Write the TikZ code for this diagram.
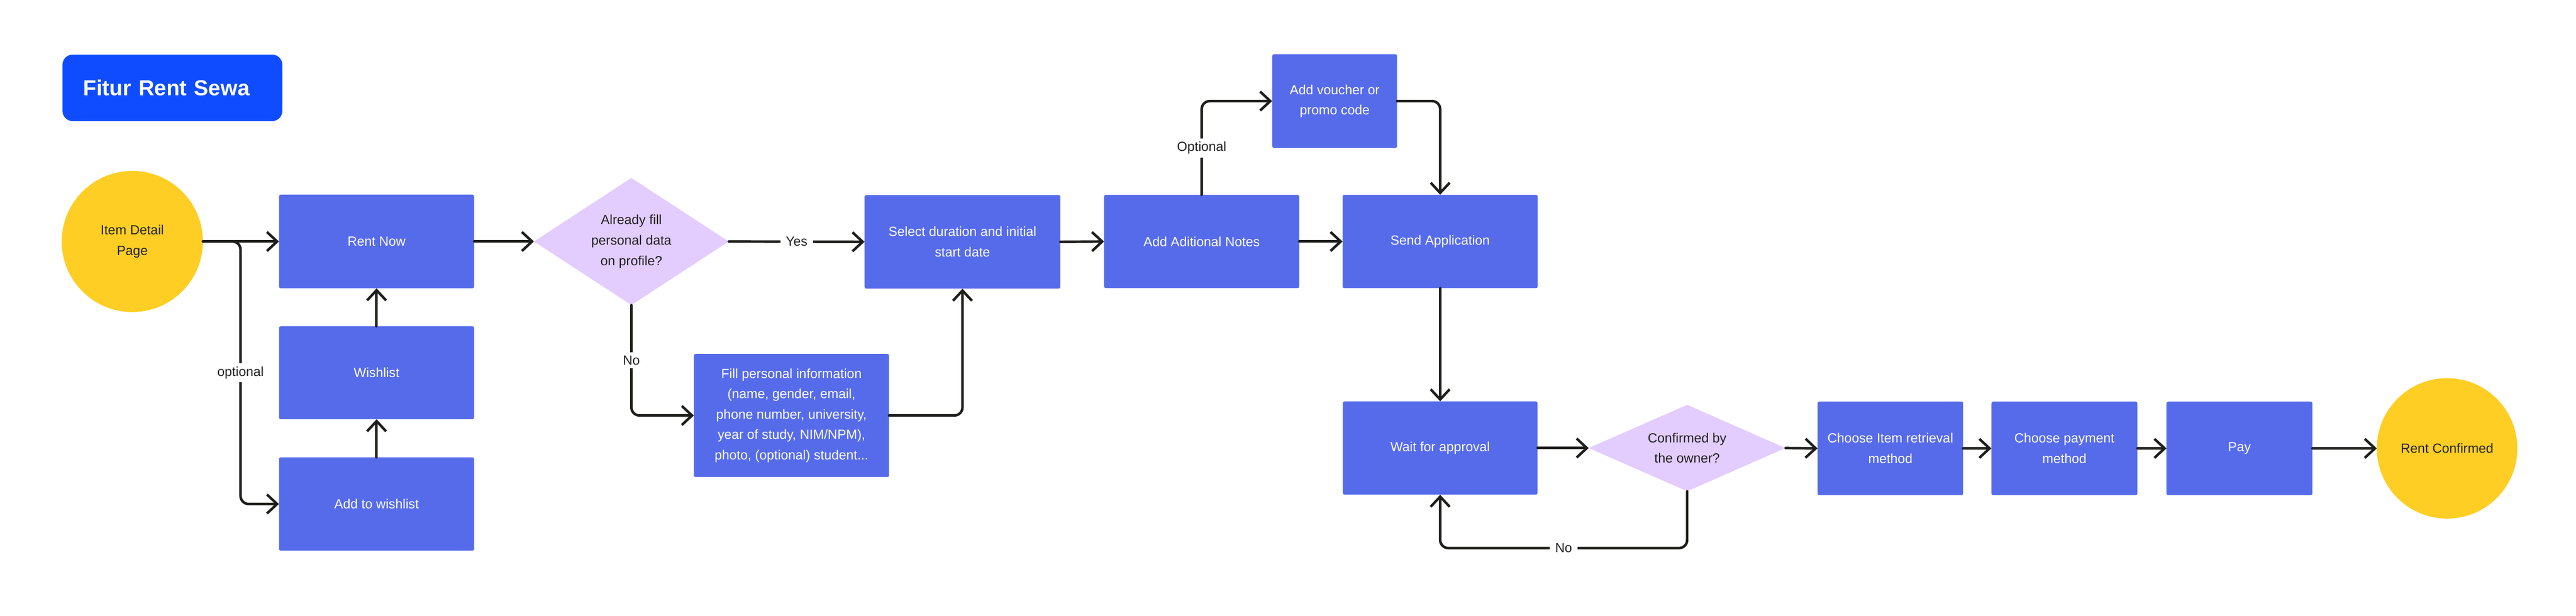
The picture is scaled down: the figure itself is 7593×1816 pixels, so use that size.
\documentclass[tikz,border=0pt]{standalone}
\usepackage{fontspec}
\setmainfont{Liberation Sans}
\usetikzlibrary{arrows.meta,shapes.geometric,calc}
\definecolor{boxblue}{HTML}{566BEA}
\definecolor{titleblue}{HTML}{0F4CFF}
\definecolor{lav}{HTML}{E3CDFF}
\definecolor{yel}{HTML}{FECE24}
\definecolor{linec}{HTML}{1E1E1B}
\definecolor{txtdark}{HTML}{222222}
\tikzset{
  bodyfont/.style={font=\fontsize{39}{60}\selectfont},
  procbox/.style={rectangle, fill=boxblue, text=white, rounded corners=5pt, inner sep=0pt, align=center, bodyfont},
  decision/.style={diamond, fill=lav, text=txtdark, inner sep=0pt, align=center, bodyfont},
  terminal/.style={circle, fill=yel, text=txtdark, inner sep=0pt, align=center, bodyfont},
  lbl/.style={fill=white, text=txtdark, inner xsep=16pt, inner ysep=10pt, bodyfont},
  arr/.style={draw=linec, line width=7.5pt, line cap=round, line join=round, -{Straight Barb[length=30pt,width=56pt]}},
  elbow/.style={rounded corners=24pt}
}
\begin{document}
\begin{tikzpicture}[x=1pt,y=-1pt]
\useasboundingbox (0,0) rectangle (7593,1816);
\fill[white] (0,0) rectangle (7593,1816);
% title
\node[rectangle, fill=titleblue, rounded corners=30pt, text=white, anchor=west, inner xsep=61pt, inner ysep=0pt, minimum height=196pt, text width=526pt, align=left, font=\fontsize{64}{76}\selectfont\bfseries] (title) at (184,259) {Fitur Rent Sewa};
% nodes
\node[terminal, minimum size=416pt] (item) at (390,712) {Item Detail\\Page};
\node[procbox, minimum width=575pt, minimum height=276pt] (rent) at (1110,712) {Rent Now};
\node[procbox, minimum width=575pt, minimum height=274pt] (wish) at (1110,1099) {Wishlist};
\node[procbox, minimum width=575pt, minimum height=275pt] (addw) at (1110,1486) {Add to wishlist};
\node[decision, minimum width=574pt, minimum height=375pt, shape aspect=1.53] (d1) at (1861,712) {Already fill\\personal data\\on profile?};
\node[procbox, minimum width=577pt, minimum height=276pt] (sel) at (2837,713) {Select duration and initial\\start date};
\node[procbox, minimum width=575pt, minimum height=363pt] (fill) at (2333,1225) {Fill personal information\\(name, gender, email,\\phone number, university,\\year of study, NIM/NPM),\\photo, (optional) student...};
\node[procbox, minimum width=575pt, minimum height=275pt] (notes) at (3542,712) {Add Aditional Notes};
\node[procbox, minimum width=368pt, minimum height=276pt] (vouch) at (3934,298) {Add voucher or\\promo code};
\node[procbox, minimum width=575pt, minimum height=275pt] (send) at (4245,712) {Send Application};
\node[procbox, minimum width=574pt, minimum height=275pt] (wait) at (4245,1321) {Wait for approval};
\node[decision, minimum width=580pt, minimum height=255pt, shape aspect=2.27] (d2) at (4973,1321) {Confirmed by\\the owner?};
\node[procbox, minimum width=429pt, minimum height=276pt] (choose) at (5572,1322) {Choose Item retrieval\\method};
\node[procbox, minimum width=430pt, minimum height=276pt] (paym) at (6085,1322) {Choose payment\\method};
\node[procbox, minimum width=430pt, minimum height=276pt] (pay) at (6601,1322) {Pay};
\node[terminal, minimum size=414pt] (rc) at (7213,1322) {Rent Confirmed};
\coordinate (br) at (709,712);
\coordinate (lp) at (4609,1616);
% connectors
\draw[arr] (item.east) -- (rent.west);
\draw[arr, elbow] (item.east) -- (br) |- (addw.west);
\draw[arr] (wish.north) -- (rent.south);
\draw[arr] (addw.north) -- (wish.south);
\draw[arr] (rent.east) -- (d1.west);
\draw[arr] (d1.east) -- (sel.west);
\draw[arr, elbow] (d1.south) |- (fill.west);
\draw[arr, elbow] (fill.east) -| (sel.south);
\draw[arr] (sel.east) -- (notes.west);
\draw[arr] (notes.east) -- (send.west);
\draw[arr, elbow] (notes.north) |- (vouch.west);
\draw[arr, elbow] (vouch.east) -| (send.north);
\draw[arr] (send.south) -- (wait.north);
\draw[arr] (wait.east) -- (d2.west);
\draw[arr] (d2.east) -- (choose.west);
\draw[arr, elbow] (d2.south) -- (d2.south |- lp) -| (wait.south);
\draw[arr] (choose.east) -- (paym.west);
\draw[arr] (paym.east) -- (pay.west);
\draw[arr] (pay.east) -- (rc.west);
% labels
\path (br) -- (br |- addw.west) node[lbl, midway] (lopt) {optional};
\path (d1.east) -- (sel.west) node[lbl, midway] (lyes) {Yes};
\path (d1.south) -- (d1.south |- fill.west) node[lbl, midway] (lno1) {No};
\path (notes.north) -- (notes.north |- vouch.west) node[lbl, midway] (lopt2) {Optional};
\node[lbl] (lno2) at (lp) {No};
\end{tikzpicture}
\end{document}
